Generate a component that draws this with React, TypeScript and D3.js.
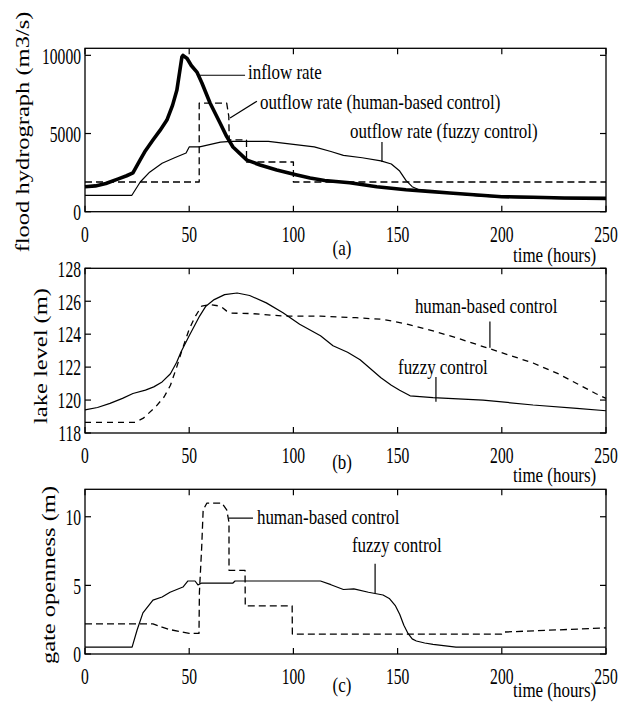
import React from 'react';
import * as d3 from 'd3';

const W = 631;
const H = 706;
const X_LEFT = 85;
const X_RIGHT = 606;
const FONT = "'Liberation Serif', 'Times New Roman', serif";

const xTicks = [0, 50, 100, 150, 200, 250];
const flowTicks = [0, 5000, 10000];
const levelTicks = [118, 120, 122, 124, 126, 128];
const gateTicks = [0, 5, 10];

type Pt = [number, number];

// Panel (a): flood hydrograph (m3/s)
const inflowRate: Pt[] = [
  [0, 1600], [5, 1650], [10, 1800], [16, 2100], [20, 2300], [23, 2480], [26.4, 3300], [29, 3900],
  [32.6, 4580], [36, 5200], [39.3, 5860], [42, 6800], [44.1, 7780], [46.5, 9890], [47, 10000],
  [49, 9800], [51, 9350], [53.7, 8930], [56.1, 8230], [60, 6950], [64.8, 5670], [68, 4800], [71, 4140],
  [74.5, 3700], [77.7, 3300], [84, 2990], [92, 2670], [101.7, 2350], [108, 2150], [115, 2000], [127, 1850],
  [140, 1600], [154, 1400], [165, 1300], [175, 1200], [190, 1050], [200, 960], [215, 920], [230, 880], [250, 850],
];
const outflowHuman: Pt[] = [
  [0, 1900], [54.8, 1900], [54.8, 6950], [68, 6950], [69, 6100], [69.2, 4590], [77.5, 4590],
  [77.5, 3180], [100, 3180], [100, 1900], [250, 1900],
];
const outflowFuzzy: Pt[] = [
  [0, 1050], [22.5, 1050], [26.5, 1900], [31, 2530], [37, 3100], [43, 3450], [48.5, 3750], [50, 4140],
  [55, 4150], [65, 4450], [70, 4500], [88, 4500], [100, 4300], [110, 4150], [118, 3850],
  [124, 3600], [133, 3450], [142, 3250], [147, 3050], [151, 2600], [154, 2000], [157, 1600], [160, 1420],
  [170, 1250], [190, 1000], [210, 880], [230, 830], [250, 800],
];

// Panel (b): lake level (m)
const levelFuzzy: Pt[] = [
  [0, 119.4], [6, 119.55], [12, 119.8], [18, 120.1], [23, 120.4], [29, 120.6], [33, 120.8], [37, 121.1],
  [41, 121.6], [44, 122.3], [46, 122.9], [50, 123.9], [55, 125.1], [58, 125.7], [62, 126.1], [67, 126.4],
  [73, 126.5], [79, 126.35], [87, 125.9], [95, 125.3], [103, 124.6], [113, 123.9], [119, 123.3], [126, 122.9],
  [132, 122.45], [137, 121.9], [142, 121.35], [147, 120.9], [151, 120.6], [156, 120.26], [167, 120.15],
  [191, 120.0], [215, 119.7], [236, 119.5], [250, 119.35],
];
const levelHuman: Pt[] = [
  [0, 118.65], [24, 118.65], [28, 118.9], [34, 119.6], [38, 120.2], [41, 120.9], [44, 122.0], [47, 123.2],
  [50, 124.3], [53, 125.1], [56, 125.7], [60, 125.8], [65, 125.7], [68, 125.4], [70, 125.28], [80, 125.25],
  [95, 125.1], [113, 125.1], [130, 125.0], [143, 124.9], [155, 124.6], [167, 124.2], [179, 123.75],
  [191, 123.25], [203, 122.75], [215, 122.25], [227, 121.6], [239, 120.8], [245, 120.4], [250, 120.1],
];

// Panel (c): gate openness (m)
const gateFuzzy: Pt[] = [
  [0, 0.5], [22.6, 0.5], [25, 1.75], [27.8, 3.0], [32.6, 3.93], [37, 4.15], [40.8, 4.5], [47, 4.88],
  [49.4, 5.32], [52.8, 5.32], [54.2, 5.03], [56, 5.17], [71, 5.17], [72, 5.32], [113, 5.32],
  [118, 5.05], [124, 4.7], [129, 4.75], [136, 4.5], [143, 4.3], [146, 4.05], [149, 3.5], [151, 2.9],
  [153, 2.1], [155, 1.5], [157, 1.1], [159, 0.95], [163, 0.8], [167, 0.7], [178, 0.5], [250, 0.5],
];
const gateHuman: Pt[] = [
  [0, 2.2], [32.6, 2.2], [37, 1.95], [40, 1.8], [45, 1.65], [50, 1.5], [54.7, 1.5], [54.9, 4.5], [56, 7.8],
  [56.7, 10.5], [58.5, 11.0], [65.7, 11.0], [68, 10.5], [69.1, 9.6], [69.1, 6.1], [76.8, 6.1], [76.9, 3.5], [99.4, 3.5],
  [99.5, 1.45], [200, 1.45], [201, 1.6], [250, 1.9],
];

type Series = { data: Pt[]; width: number; dash?: string };
type Note = { text: string; t: number; v: number };
type Leader = { t1: number; v1: number; t2: number; v2: number };

const x = d3.scaleLinear().domain([0, 250]).range([X_LEFT, X_RIGHT]);

function HText({ x, y, children, size = 22, anchor = 'start', sx = 0.77 }: any) {
  return (
    <text
      transform={`translate(${x},${y}) scale(${sx},1)`}
      fontSize={size}
      textAnchor={anchor}
      dominantBaseline="central"
      fontFamily={FONT}
      fill="#000"
    >
      {children}
    </text>
  );
}

function Panel(props: {
  top: number; bottom: number; yDomain: [number, number]; yTicks: number[];
  yLabel: string; yLabelX: number; yLabelCY: number; series: Series[];
  notes: Note[]; leaders: Leader[]; tag: string; tagCY: number; timeCY: number;
}) {
  const { top, bottom, yDomain, yTicks, yLabel, yLabelX, yLabelCY, series, notes, leaders, tag, tagCY, timeCY } = props;
  const y = d3.scaleLinear().domain(yDomain).range([bottom, top]);
  const line = d3.line<Pt>().x(d => x(d[0])).y(d => y(d[1]));
  const tl = 6;
  return (
    <g>
      {series.map((s, i) => (
        <path key={i} d={line(s.data) || ''} fill="none" stroke="#000" strokeWidth={s.width}
          strokeDasharray={s.dash} strokeLinejoin="round" />
      ))}
      <rect x={X_LEFT} y={top} width={X_RIGHT - X_LEFT} height={bottom - top} fill="none" stroke="#000" strokeWidth={1.3} />
      {xTicks.map(t => (
        <g key={t}>
          <line x1={x(t)} x2={x(t)} y1={bottom} y2={bottom - tl} stroke="#000" strokeWidth={1.2} />
          <line x1={x(t)} x2={x(t)} y1={top} y2={top + tl} stroke="#000" strokeWidth={1.2} />
          <HText x={x(t)} y={bottom + 22} size={24} sx={0.65} anchor="middle">{t}</HText>
        </g>
      ))}
      {yTicks.map(v => (
        <g key={v}>
          <line x1={X_LEFT} x2={X_LEFT + tl} y1={y(v)} y2={y(v)} stroke="#000" strokeWidth={1.2} />
          <line x1={X_RIGHT} x2={X_RIGHT - tl} y1={y(v)} y2={y(v)} stroke="#000" strokeWidth={1.2} />
          <HText x={81} y={y(v)} size={24} sx={0.65} anchor="end">{v}</HText>
        </g>
      ))}
      <text
        transform={`translate(${yLabelX},${yLabelCY}) rotate(-90) scale(1,0.8)`}
        fontSize={24.5}
        textAnchor="middle"
        dominantBaseline="central"
        fontFamily={FONT}
        fill="#000"
      >
        {yLabel}
      </text>
      {notes.map((n, i) => (
        <HText key={i} x={x(n.t)} y={y(n.v)}>{n.text}</HText>
      ))}
      {leaders.map((l, i) => (
        <line key={i} x1={x(l.t1)} y1={y(l.v1)} x2={x(l.t2)} y2={y(l.v2)} stroke="#000" strokeWidth={1.2} />
      ))}
      <HText x={342} y={tagCY} anchor="middle">{tag}</HText>
      <HText x={513} y={timeCY}>time (hours)</HText>
    </g>
  );
}

export default function App() {
  return (
    <svg width={W} height={H} style={{ position: 'absolute', left: 0, top: 0, background: '#fff' }}>
      <rect x={0} y={0} width={W} height={H} fill="#fff" />
      <Panel
        top={48.3} bottom={211.7} yDomain={[0, 10450]} yTicks={flowTicks}
        yLabel="flood hydrograph (m3/s)" yLabelX={22} yLabelCY={132}
        series={[
          { data: outflowHuman, width: 1.3, dash: '7,4' },
          { data: outflowFuzzy, width: 1.2 },
          { data: inflowRate, width: 3.6 },
        ]}
        notes={[
          { text: 'inflow rate', t: 78.2, v: 8935 },
          { text: 'outflow rate (human-based control)', t: 84, v: 7016 },
          { text: 'outflow rate (fuzzy control)', t: 127.2, v: 5161 },
        ]}
        leaders={[
          { t1: 55.2, v1: 8726, t2: 76.8, v2: 8726 },
          { t1: 69.6, v1: 5990, t2: 82.5, v2: 7070 },
          { t1: 142.5, v1: 4460, t2: 142.5, v2: 3185 },
        ]}
        tag="(a)" tagCY={248} timeCY={255}
      />
      <Panel
        top={268.3} bottom={433} yDomain={[118, 128]} yTicks={levelTicks}
        yLabel="lake level (m)" yLabelX={40} yLabelCY={356}
        series={[
          { data: levelHuman, width: 1.3, dash: '6,5' },
          { data: levelFuzzy, width: 1.2 },
        ]}
        notes={[
          { text: 'human-based control', t: 158.3, v: 125.71 },
          { text: 'fuzzy control', t: 150.2, v: 122.0 },
        ]}
        leaders={[
          { t1: 194.3, v1: 124.77, t2: 194.3, v2: 123.18 },
          { t1: 168.4, v1: 121.4, t2: 168.4, v2: 119.9 },
        ]}
        tag="(b)" tagCY={462} timeCY={475}
      />
      <Panel
        top={489.3} bottom={654} yDomain={[0, 12]} yTicks={gateTicks}
        yLabel="gate openness (m)" yLabelX={48} yLabelCY={575}
        series={[
          { data: gateHuman, width: 1.3, dash: '7,4' },
          { data: gateFuzzy, width: 1.2 },
        ]}
        notes={[
          { text: 'human-based control', t: 82.5, v: 9.98 },
          { text: 'fuzzy control', t: 128.1, v: 7.94 },
        ]}
        leaders={[
          { t1: 69.1, v1: 9.9, t2: 80.6, v2: 9.9 },
          { t1: 139.2, v1: 6.58, t2: 139.2, v2: 4.45 },
        ]}
        tag="(c)" tagCY={685} timeCY={690}
      />
    </svg>
  );
}
